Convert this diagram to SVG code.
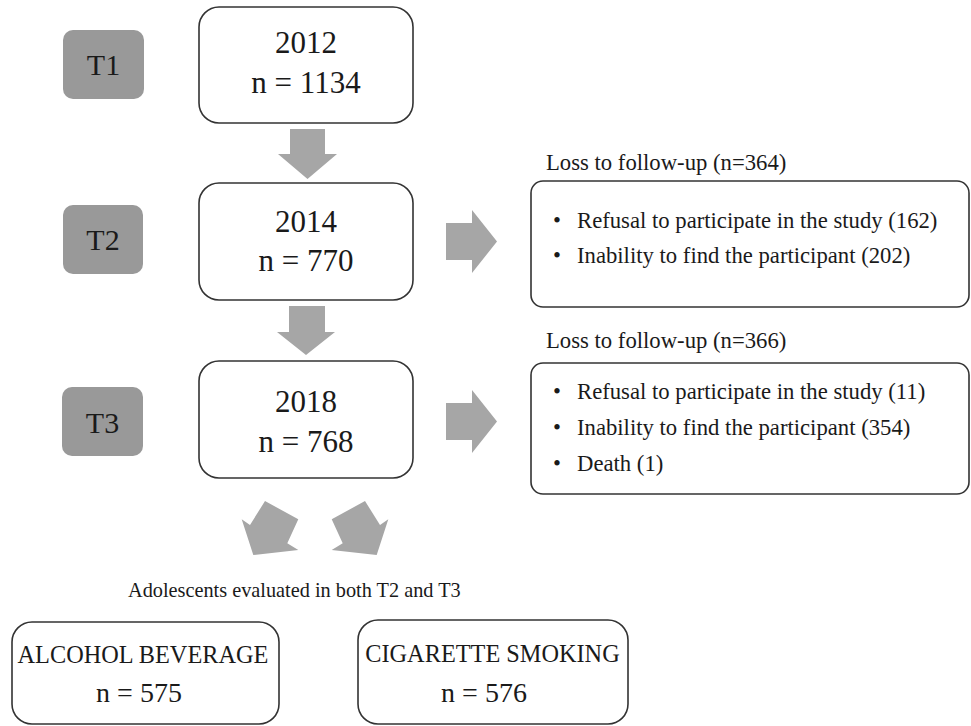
<svg xmlns="http://www.w3.org/2000/svg" width="971" height="726" viewBox="0 0 971 726">
<style>
text{font-family:"Liberation Serif","Times New Roman",serif;fill:#1a1a1a}
.tag{fill:#999999}
.box{fill:#ffffff;stroke:#333333;stroke-width:1.6}
.arr{fill:#a6a6a6}
.big{font-size:31px;text-anchor:middle}
.t{font-size:30px;text-anchor:middle}
.s{font-size:22.7px}
.m{font-size:20.3px}
.c{font-size:24.3px;text-anchor:middle}
.n{font-size:28px;text-anchor:middle}
</style>
<rect width="971" height="726" fill="#ffffff"/>
<g id="t1"><rect class="tag" x="63" y="30" width="81" height="69" rx="10"/><text class="t" x="103.5" y="75">T1</text></g>
<g id="t2"><rect class="tag" x="63" y="205" width="80" height="69" rx="10"/><text class="t" x="103" y="250">T2</text></g>
<g id="t3"><rect class="tag" x="62" y="387" width="81" height="69" rx="10"/><text class="t" x="102.5" y="433">T3</text></g>
<g id="y2012"><rect class="box" x="199" y="7" width="214" height="116" rx="20"/><text class="big" x="306" y="53">2012</text><text class="big" x="306" y="93">n = 1134</text></g>
<g id="y2014"><rect class="box" x="199" y="183" width="214" height="117" rx="20"/><text class="big" x="306" y="232">2014</text><text class="big" x="306" y="271">n = 770</text></g>
<g id="y2018"><rect class="box" x="199" y="361" width="214" height="117" rx="20"/><text class="big" x="306" y="412">2018</text><text class="big" x="306" y="452">n = 768</text></g>
<g id="loss1"><text class="s" x="546" y="170">Loss to follow-up (n=364)</text><rect class="box" x="531" y="181" width="438" height="126" rx="12"/><text class="s" x="553" y="228">•</text><text class="s" x="577" y="228">Refusal to participate in the study (162)</text><text class="s" x="553" y="263">•</text><text class="s" x="577" y="263">Inability to find the participant (202)</text></g>
<g id="loss2"><text class="s" x="546" y="348">Loss to follow-up (n=366)</text><rect class="box" x="531" y="363" width="438" height="131" rx="12"/><text class="s" x="553" y="399">•</text><text class="s" x="577" y="399">Refusal to participate in the study (11)</text><text class="s" x="553" y="435">•</text><text class="s" x="577" y="435">Inability to find the participant (354)</text><text class="s" x="553" y="471">•</text><text class="s" x="577" y="471">Death (1)</text></g>
<g id="eval"><text class="m" x="128" y="597">Adolescents evaluated in both T2 and T3</text></g>
<g id="alcohol"><rect class="box" x="12" y="622" width="267" height="102" rx="20"/><text class="c" x="143" y="663">ALCOHOL BEVERAGE</text><text class="n" x="139" y="702">n = 575</text></g>
<g id="cigarette"><rect class="box" x="358" y="620" width="270" height="104" rx="20"/><text class="c" x="492.5" y="662">CIGARETTE SMOKING</text><text class="n" x="484" y="702">n = 576</text></g>
<g id="connectors">
<polygon class="arr" points="290,129 325,129 325,154 337,154 307.5,179 278,154 290,154"/>
<polygon class="arr" points="289,306 325,306 325,332 335,332 306,355 277,332 289,332"/>
<polygon class="arr" points="446,223 472,223 472,210 497,241.5 472,273 472,260 446,260"/>
<polygon class="arr" points="446,403 472,403 472,390 497,421.5 472,453 472,440 446,440"/>
<polygon class="arr" points="265,501 298.3,519.3 287.3,543.3 298.3,550 253.3,555 241.7,519.3 250,525"/>
<polygon class="arr" points="365,501 331.7,519.3 342.7,543.3 331.7,550 376.7,555 388.3,519.3 380,525"/>
</g>
</svg>
